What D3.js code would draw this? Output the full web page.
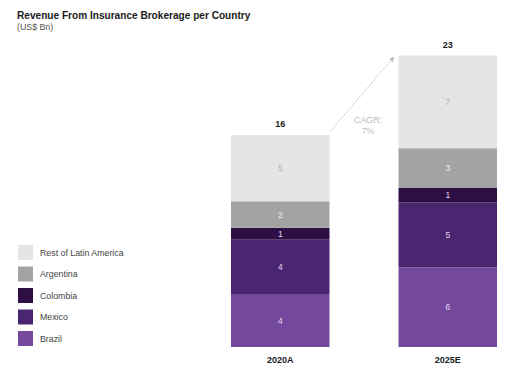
<!DOCTYPE html>
<html>
<head>
<meta charset="utf-8">
<script src="https://cdn.jsdelivr.net/npm/d3@7"></script>
<style>
body{margin:0;background:#fff;}
svg{display:block;font-family:"Liberation Sans",Arial,sans-serif;}
</style>
</head>
<body>
<svg width="512" height="369"></svg>
<script>
// data
var years = ["2020A", "2025E"];
var countries = ["Brazil", "Mexico", "Colombia", "Argentina", "Rest of Latin America"];
var brazil = [4.0, 6.0];
var mexico = [4.1, 4.9];
var colombia = [0.9, 1.1];
var argentina = [2.0, 3.0];
var restLatam = [5.0, 7.0];
var totals = ["16", "23"];
var cagr = ["CAGR:", "7%"];

var colors = ["#74489c", "#4a2670", "#2d0f45", "#a3a3a3", "#e5e5e5"];
var labelColors = ["#e6d6f2", "#e6d6f2", "#e6d6f2", "#ececec", "#b3b3b3"];

var svg = d3.select("svg");

var rows = years.map(function(y, i){
  return {year: y, Brazil: brazil[i], Mexico: mexico[i], Colombia: colombia[i],
          Argentina: argentina[i], "Rest of Latin America": restLatam[i]};
});

var x = d3.scaleBand().domain(years).range([231, 497]).paddingInner(0.412).paddingOuter(0);
var y = d3.scaleLinear().domain([0, 16]).range([347, 135]);

var stack = d3.stack().keys(countries)(rows);

// title
svg.append("text").attr("x", 17).attr("y", 19)
  .attr("font-size", 10.1).attr("font-weight", "bold").attr("fill", "#1a1a1a")
  .text("Revenue From Insurance Brokerage per Country");
svg.append("text").attr("x", 17).attr("y", 30)
  .attr("font-size", 8.8).attr("fill", "#555")
  .text("(US$ Bn)");

// bars
stack.forEach(function(s, k){
  svg.selectAll(null).data(s).enter().append("rect")
    .attr("x", function(d){ return x(d.data.year); })
    .attr("width", x.bandwidth())
    .attr("y", function(d){ return y(d[1]); })
    .attr("height", function(d){ return y(d[0]) - y(d[1]); })
    .attr("fill", colors[k]);
});

stack.forEach(function(s, k){
  svg.selectAll(null).data(s).enter().append("text")
    .attr("x", function(d){ return x(d.data.year) + x.bandwidth()/2; })
    .attr("y", function(d){ return (y(d[0]) + y(d[1]))/2 + 3; })
    .attr("text-anchor", "middle")
    .attr("font-size", 8.5)
    .attr("fill", labelColors[k])
    .text(function(d){ return Math.round(d[1] - d[0]); });
});

// totals
svg.selectAll("text.total").data(rows).enter().append("text")
  .attr("class", "total")
  .attr("x", function(d){ return x(d.year) + x.bandwidth()/2; })
  .attr("y", function(d){ return y(d3.sum(countries, function(c){ return d[c]; })) - 8; })
  .attr("text-anchor", "middle")
  .attr("font-size", 9).attr("font-weight", "bold").attr("fill", "#1a1a1a")
  .text(function(d, i){ return totals[i]; });

// x labels
svg.selectAll("text.cat").data(years).enter().append("text")
  .attr("class", "cat")
  .attr("x", function(d){ return x(d) + x.bandwidth()/2; })
  .attr("y", 363)
  .attr("text-anchor", "middle")
  .attr("font-size", 9).attr("font-weight", "bold").attr("fill", "#1a1a1a")
  .text(function(d){ return d; });

// cagr arrow
svg.append("defs").append("marker")
  .attr("id", "arr").attr("viewBox", "0 0 10 10")
  .attr("refX", 8).attr("refY", 5)
  .attr("markerWidth", 5).attr("markerHeight", 5)
  .attr("orient", "auto")
  .append("path").attr("d", "M0,0 L10,5 L0,10 z").attr("fill", "#b8b8b8");

var t0 = y(d3.sum(countries, function(c){ return rows[0][c]; }));
var t1 = y(d3.sum(countries, function(c){ return rows[1][c]; }));
svg.append("line")
  .attr("x1", x(years[0]) + x.bandwidth() + 1).attr("y1", t0 - 4)
  .attr("x2", x(years[1]) - 5).attr("y2", t1 + 2)
  .attr("stroke", "#b8b8b8").attr("stroke-width", 1)
  .attr("stroke-dasharray", "1.5,1.5")
  .attr("marker-end", "url(#arr)");

svg.selectAll("text.cagr").data(cagr).enter().append("text")
  .attr("class", "cagr")
  .attr("x", 368)
  .attr("y", function(d, i){ return 123 + i*11; })
  .attr("text-anchor", "middle")
  .attr("font-size", 8.8).attr("fill", "#bdbdbd")
  .text(function(d){ return d; });

// legend
var legendOrder = countries.slice().reverse();
var lg = svg.selectAll("g.lg").data(legendOrder).enter().append("g")
  .attr("class", "lg")
  .attr("transform", function(d, i){ return "translate(18," + (245 + i*21.5) + ")"; });
lg.append("rect").attr("width", 15).attr("height", 15)
  .attr("fill", function(d){ return colors[countries.indexOf(d)]; });
lg.append("text").attr("x", 22).attr("y", 10.5)
  .attr("font-size", 8.8).attr("fill", "#444")
  .text(function(d){ return d; });
</script>
</body>
</html>
